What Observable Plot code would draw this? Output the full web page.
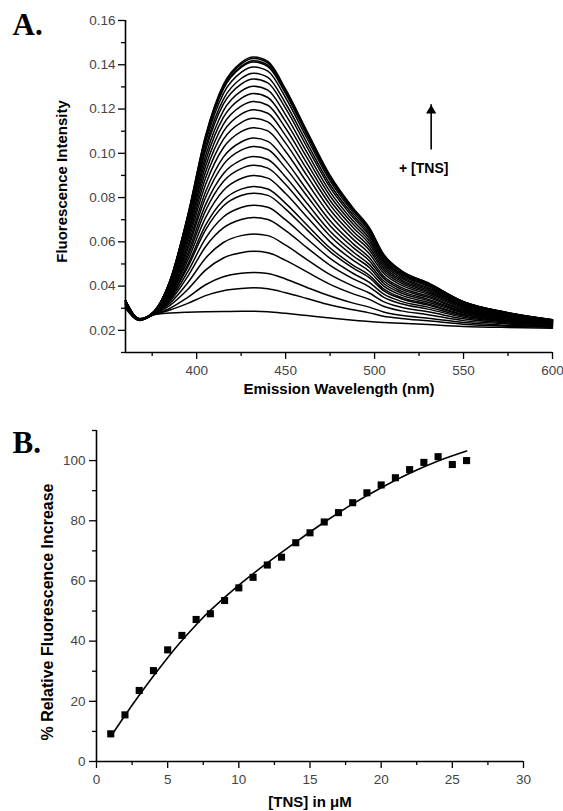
<!DOCTYPE html>
<html><head><meta charset="utf-8">
<script src="https://cdn.jsdelivr.net/npm/d3@7"></script>
<script src="https://cdn.jsdelivr.net/npm/@observablehq/plot@0.6"></script>
<style>
html,body{margin:0;padding:0;background:#fff;}
#wrap{position:relative;width:563px;height:811px;overflow:hidden;background:#fff;}
#a{position:absolute;left:0;top:0;}
#b{position:absolute;left:0;top:410px;}
</style></head>
<body><div id="wrap"><div id="a"></div><div id="b"></div></div>
<script>
// ---------- Panel A: emission spectra ----------
const wavelengths = [360, 368, 376, 385, 395, 405, 415, 425, 432, 440, 450, 462, 475, 488, 497, 505, 515, 530, 550, 575, 600];
const spectra = [
  [0.0300, 0.0245, 0.0270, 0.0278, 0.0282, 0.0284, 0.0285, 0.0286, 0.0286, 0.0284, 0.0277, 0.0267, 0.0256, 0.0246, 0.0240, 0.0236, 0.0232, 0.0226, 0.0218, 0.0213, 0.0210],
  [0.0303, 0.0246, 0.0271, 0.0292, 0.0322, 0.0357, 0.0379, 0.0389, 0.0392, 0.0388, 0.0370, 0.0344, 0.0315, 0.0293, 0.0279, 0.0264, 0.0254, 0.0243, 0.0228, 0.0219, 0.0214],
  [0.0305, 0.0246, 0.0272, 0.0300, 0.0349, 0.0406, 0.0442, 0.0458, 0.0462, 0.0457, 0.0432, 0.0394, 0.0355, 0.0323, 0.0305, 0.0283, 0.0268, 0.0255, 0.0235, 0.0223, 0.0216],
  [0.0308, 0.0247, 0.0274, 0.0313, 0.0385, 0.0472, 0.0527, 0.0551, 0.0557, 0.0551, 0.0516, 0.0464, 0.0408, 0.0365, 0.0340, 0.0309, 0.0288, 0.0271, 0.0244, 0.0229, 0.0219],
  [0.0311, 0.0247, 0.0275, 0.0323, 0.0415, 0.0526, 0.0597, 0.0628, 0.0635, 0.0628, 0.0585, 0.0520, 0.0452, 0.0400, 0.0369, 0.0330, 0.0304, 0.0284, 0.0252, 0.0233, 0.0222],
  [0.0313, 0.0248, 0.0276, 0.0332, 0.0444, 0.0578, 0.0663, 0.0701, 0.0710, 0.0701, 0.0651, 0.0574, 0.0494, 0.0433, 0.0397, 0.0350, 0.0320, 0.0296, 0.0259, 0.0238, 0.0224],
  [0.0315, 0.0248, 0.0276, 0.0339, 0.0465, 0.0616, 0.0712, 0.0755, 0.0765, 0.0756, 0.0699, 0.0614, 0.0525, 0.0457, 0.0417, 0.0365, 0.0331, 0.0305, 0.0265, 0.0241, 0.0226],
  [0.0316, 0.0248, 0.0277, 0.0346, 0.0486, 0.0654, 0.0762, 0.0809, 0.0820, 0.0810, 0.0748, 0.0654, 0.0556, 0.0481, 0.0438, 0.0380, 0.0343, 0.0314, 0.0270, 0.0244, 0.0228],
  [0.0317, 0.0248, 0.0277, 0.0350, 0.0497, 0.0675, 0.0788, 0.0838, 0.0850, 0.0839, 0.0774, 0.0676, 0.0572, 0.0494, 0.0449, 0.0388, 0.0349, 0.0319, 0.0273, 0.0246, 0.0229],
  [0.0319, 0.0249, 0.0278, 0.0357, 0.0516, 0.0709, 0.0832, 0.0886, 0.0900, 0.0888, 0.0818, 0.0712, 0.0600, 0.0516, 0.0467, 0.0401, 0.0359, 0.0327, 0.0278, 0.0249, 0.0230],
  [0.0320, 0.0249, 0.0279, 0.0362, 0.0533, 0.0741, 0.0873, 0.0931, 0.0946, 0.0933, 0.0859, 0.0745, 0.0626, 0.0536, 0.0484, 0.0413, 0.0369, 0.0335, 0.0282, 0.0252, 0.0232],
  [0.0321, 0.0249, 0.0279, 0.0367, 0.0548, 0.0768, 0.0908, 0.0969, 0.0985, 0.0972, 0.0893, 0.0774, 0.0648, 0.0554, 0.0498, 0.0424, 0.0377, 0.0341, 0.0286, 0.0254, 0.0233],
  [0.0323, 0.0250, 0.0280, 0.0373, 0.0566, 0.0800, 0.0949, 0.1014, 0.1031, 0.1017, 0.0933, 0.0807, 0.0673, 0.0574, 0.0515, 0.0436, 0.0386, 0.0349, 0.0291, 0.0256, 0.0235],
  [0.0324, 0.0250, 0.0280, 0.0378, 0.0580, 0.0826, 0.0983, 0.1051, 0.1069, 0.1054, 0.0967, 0.0834, 0.0695, 0.0591, 0.0529, 0.0446, 0.0394, 0.0355, 0.0294, 0.0259, 0.0236],
  [0.0325, 0.0250, 0.0281, 0.0384, 0.0598, 0.0859, 0.1025, 0.1098, 0.1116, 0.1101, 0.1008, 0.0868, 0.0721, 0.0611, 0.0547, 0.0459, 0.0404, 0.0363, 0.0299, 0.0261, 0.0237],
  [0.0327, 0.0250, 0.0281, 0.0390, 0.0614, 0.0888, 0.1063, 0.1139, 0.1158, 0.1142, 0.1046, 0.0899, 0.0745, 0.0630, 0.0563, 0.0471, 0.0413, 0.0370, 0.0303, 0.0264, 0.0239],
  [0.0328, 0.0251, 0.0282, 0.0395, 0.0629, 0.0915, 0.1098, 0.1177, 0.1197, 0.1181, 0.1080, 0.0928, 0.0767, 0.0647, 0.0577, 0.0481, 0.0421, 0.0376, 0.0307, 0.0266, 0.0240],
  [0.0329, 0.0251, 0.0282, 0.0399, 0.0643, 0.0941, 0.1131, 0.1213, 0.1234, 0.1217, 0.1113, 0.0954, 0.0787, 0.0664, 0.0591, 0.0491, 0.0428, 0.0382, 0.0310, 0.0268, 0.0241],
  [0.0330, 0.0251, 0.0283, 0.0404, 0.0657, 0.0965, 0.1162, 0.1248, 0.1270, 0.1252, 0.1144, 0.0980, 0.0807, 0.0679, 0.0604, 0.0501, 0.0436, 0.0388, 0.0314, 0.0270, 0.0243],
  [0.0331, 0.0251, 0.0283, 0.0408, 0.0670, 0.0988, 0.1192, 0.1281, 0.1303, 0.1285, 0.1174, 0.1004, 0.0826, 0.0694, 0.0616, 0.0510, 0.0443, 0.0393, 0.0317, 0.0272, 0.0244],
  [0.0332, 0.0251, 0.0284, 0.0412, 0.0682, 0.1012, 0.1222, 0.1313, 0.1336, 0.1318, 0.1203, 0.1028, 0.0845, 0.0709, 0.0628, 0.0518, 0.0450, 0.0399, 0.0320, 0.0274, 0.0245],
  [0.0333, 0.0252, 0.0284, 0.0416, 0.0692, 0.1029, 0.1244, 0.1338, 0.1362, 0.1343, 0.1225, 0.1047, 0.0859, 0.0720, 0.0638, 0.0525, 0.0455, 0.0403, 0.0323, 0.0276, 0.0246],
  [0.0334, 0.0252, 0.0284, 0.0419, 0.0703, 0.1049, 0.1270, 0.1366, 0.1390, 0.1371, 0.1251, 0.1068, 0.0875, 0.0732, 0.0648, 0.0533, 0.0461, 0.0408, 0.0326, 0.0277, 0.0247],
  [0.0334, 0.0252, 0.0285, 0.0422, 0.0711, 0.1064, 0.1290, 0.1388, 0.1412, 0.1392, 0.1270, 0.1083, 0.0887, 0.0742, 0.0656, 0.0539, 0.0465, 0.0411, 0.0328, 0.0279, 0.0247],
  [0.0335, 0.0252, 0.0285, 0.0425, 0.0720, 0.1080, 0.1310, 0.1410, 0.1435, 0.1415, 0.1290, 0.1100, 0.0900, 0.0752, 0.0665, 0.0545, 0.0470, 0.0415, 0.0330, 0.0280, 0.0248],
  [0.0334, 0.0252, 0.0285, 0.0423, 0.0713, 0.1068, 0.1295, 0.1393, 0.1418, 0.1398, 0.1275, 0.1088, 0.0890, 0.0745, 0.0659, 0.0540, 0.0466, 0.0412, 0.0328, 0.0279, 0.0247],
  [0.0335, 0.0252, 0.0285, 0.0424, 0.0717, 0.1075, 0.1304, 0.1403, 0.1428, 0.1408, 0.1284, 0.1095, 0.0896, 0.0749, 0.0662, 0.0543, 0.0469, 0.0414, 0.0329, 0.0280, 0.0248]
];
const aXDomain = [360, 600];
const aYDomain = [0.01, 0.16];
const aXTicks = [400, 450, 500, 550, 600];
const aXMinor = [375, 425, 475, 525, 575];
const aYTicks = [0.02, 0.04, 0.06, 0.08, 0.10, 0.12, 0.14, 0.16];
const aYMinor = [0.01, 0.03, 0.05, 0.07, 0.09, 0.11, 0.13, 0.15];
const aXTitle = "Emission Wavelength (nm)";
const aYTitle = "Fluorescence Intensity";
const aPanel = "A.";
const aArrow = [{wl: 531.8, from: 0.1015, to: 0.1219}];
const aNote = [{wl: 527.6, v: 0.0933, label: "+ [TNS]"}];

// ---------- Panel B: titration ----------
const tnsConc = [1,2,3,4,5,6,7,8,9,10,11,12,13,14,15,16,17,18,19,20,21,22,23,24,25,26];
const relIncrease = [9.2, 15.5, 23.6, 30.2, 37.1, 41.9, 47.2, 49.1, 53.5, 57.7, 61.2, 65.3, 67.9, 72.7, 76.0, 79.6, 82.7, 86.0, 89.3, 91.9, 94.3, 97.0, 99.4, 101.3, 98.7, 100.0];
const fitConc = [1, 2, 3, 4, 5, 6, 7, 8, 10, 12, 14, 16, 18, 20, 22, 24, 26];
const fitValues = [8.3, 15.3, 22.0, 28.4, 34.5, 40.2, 45.4, 50.2, 58.6, 66.0, 72.9, 79.5, 85.6, 91.0, 95.8, 99.9, 103.2];
const bXDomain = [0, 30];
const bYDomain = [0, 110];
const bXTicks = [0, 5, 10, 15, 20, 25, 30];
const bXMinor = [2.5, 7.5, 12.5, 17.5, 22.5, 27.5];
const bYTicks = [0, 20, 40, 60, 80, 100];
const bYMinor = [10, 30, 50, 70, 90, 110];
const bXTitle = "[TNS] in \u03BCM";
const bYTitle = "% Relative Fluorescence Increase";
const bPanel = "B.";

// ---------- shared style ----------
const sans = "'Liberation Sans', Arial, Helvetica, sans-serif";
const serif = "'Liberation Serif', 'Times New Roman', serif";
const tickFill = "#444";
const tickFont = 13.5;

const specRows = spectra.flatMap((vals, i) => vals.map((v, j) => ({wl: wavelengths[j], v, curve: i})));

const plotA = Plot.plot({
  width: 563, height: 405,
  marginLeft: 125, marginRight: 11, marginTop: 20, marginBottom: 53,
  x: {domain: aXDomain},
  y: {domain: aYDomain},
  style: {fontFamily: sans, background: "white", overflow: "visible", color: "black"},
  marks: [
    Plot.line(specRows, {x: "wl", y: "v", z: "curve", stroke: "black", strokeWidth: 1.5, curve: "monotone-x"}),
    Plot.ruleX([aXDomain[0]], {stroke: "black", strokeWidth: 1.6}),
    Plot.ruleY([aYDomain[0]], {stroke: "black", strokeWidth: 1.6}),
    Plot.axisY(aYMinor, {tickSize: 4, text: null, label: null, stroke: "black", strokeWidth: 1.3}),
    Plot.axisY(aYTicks, {tickSize: 7, tickPadding: 3, tickFormat: d3.format(".2f"), label: null, fill: tickFill, fontSize: tickFont, stroke: "black", strokeWidth: 1.3}),
    Plot.axisX(aXMinor, {tickSize: 4, text: null, label: null, stroke: "black", strokeWidth: 1.3}),
    Plot.axisX(aXTicks, {tickSize: 7, tickPadding: 6, label: null, fill: tickFill, fontSize: tickFont, stroke: "black", strokeWidth: 1.3}),
    Plot.ruleX(aArrow, {x: "wl", y1: "from", y2: "to", stroke: "black", strokeWidth: 1.6}),
    Plot.dot(aArrow, {x: "wl", y: "to", symbol: "triangle", r: 3.8, fill: "black", dy: 5.8}),
    Plot.text(aNote, {x: "wl", y: "v", text: "label", fontWeight: "bold", fontSize: 14, fill: "black"}),
    Plot.text([aYTitle], {frameAnchor: "left", textAnchor: "middle", rotate: -90, dx: -63, dy: -5, fontWeight: "bold", fontSize: 15, fill: "black"}),
    Plot.text([aXTitle], {frameAnchor: "bottom", textAnchor: "middle", dy: 41, fontWeight: "bold", fontSize: 15, fill: "black"}),
    Plot.text([aPanel], {frameAnchor: "top-left", textAnchor: "start", lineAnchor: "bottom", dx: -113, dy: 14, fontWeight: "bold", fontSize: 31, fontFamily: serif, fill: "black"})
  ]
});
document.getElementById("a").appendChild(plotA);

const ptsRows = tnsConc.map((c, i) => ({c, p: relIncrease[i]}));
const fitRows = fitConc.map((c, i) => ({c, p: fitValues[i]}));

const plotB = Plot.plot({
  width: 563, height: 401,
  marginLeft: 96, marginRight: 40, marginTop: 20, marginBottom: 50,
  x: {domain: bXDomain},
  y: {domain: bYDomain},
  style: {fontFamily: sans, background: "white", overflow: "visible", color: "black"},
  marks: [
    Plot.ruleX([bXDomain[0]], {stroke: "black", strokeWidth: 1.6}),
    Plot.ruleY([bYDomain[0]], {stroke: "black", strokeWidth: 1.6}),
    Plot.axisY(bYMinor, {tickSize: 4, text: null, label: null, stroke: "black", strokeWidth: 1.3}),
    Plot.axisY(bYTicks, {tickSize: 7, tickPadding: 4, label: null, fill: tickFill, fontSize: tickFont, stroke: "black", strokeWidth: 1.3}),
    Plot.axisX(bXMinor, {tickSize: 4, text: null, label: null, stroke: "black", strokeWidth: 1.3}),
    Plot.axisX(bXTicks, {tickSize: 7, tickPadding: 6, label: null, fill: tickFill, fontSize: tickFont, stroke: "black", strokeWidth: 1.3}),
    Plot.line(fitRows, {x: "c", y: "p", stroke: "black", strokeWidth: 1.6, curve: "natural"}),
    Plot.dot(ptsRows, {x: "c", y: "p", symbol: "square", r: 4, fill: "black"}),
    Plot.text([bYTitle], {frameAnchor: "left", textAnchor: "middle", rotate: -90, dx: -49, dy: 16, fontWeight: "bold", fontSize: 16, fill: "black"}),
    Plot.text([bXTitle], {frameAnchor: "bottom", textAnchor: "middle", dy: 45, fontWeight: "bold", fontSize: 15, fill: "black"}),
    Plot.text([bPanel], {frameAnchor: "top-left", textAnchor: "start", lineAnchor: "bottom", dx: -84, dy: 22, fontWeight: "bold", fontSize: 31, fontFamily: serif, fill: "black"})
  ]
});
document.getElementById("b").appendChild(plotB);
</script>
</body></html>
